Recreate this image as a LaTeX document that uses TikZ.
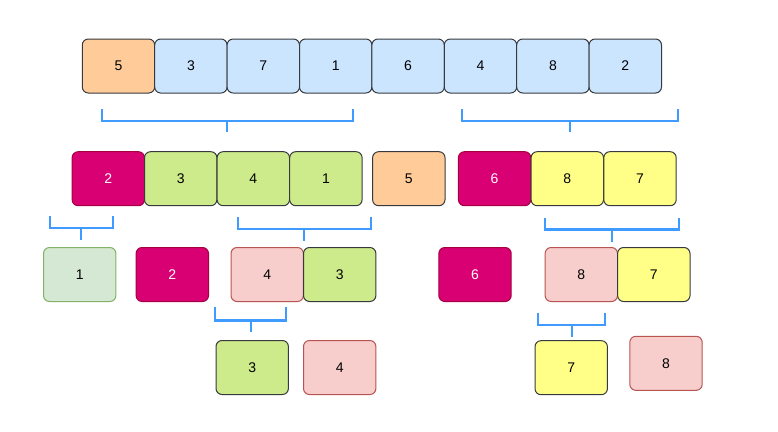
\documentclass[tikz,border=0pt]{standalone}
\usepackage{fontspec}
\setmainfont{Liberation Sans}
\usetikzlibrary{positioning}

\definecolor{orangefill}{HTML}{FFCC99}
\definecolor{bluefill}{HTML}{CCE5FF}
\definecolor{magfill}{HTML}{D80073}
\definecolor{magline}{HTML}{A50040}
\definecolor{greenfill}{HTML}{CDEB8B}
\definecolor{palegreen}{HTML}{D5E8D4}
\definecolor{paleline}{HTML}{82B366}
\definecolor{pinkfill}{HTML}{F8CECC}
\definecolor{pinkline}{HTML}{B85450}
\definecolor{yellowfill}{HTML}{FFFF88}
\definecolor{darkline}{HTML}{36393D}
\definecolor{brackblue}{HTML}{3F9BFF}

\begin{document}
\begin{tikzpicture}[
      x=1pt, y=-1pt,
      box/.style={rectangle, rounded corners=6pt, line width=1pt, draw=darkline,
        minimum width=72.4pt, minimum height=54pt, inner sep=0pt,
        font=\fontsize{14}{16}\selectfont},
      o/.style={box, fill=orangefill},
      b/.style={box, fill=bluefill},
      m/.style={box, fill=magfill, draw=magline, text=white},
      g/.style={box, fill=greenfill},
      lg/.style={box, fill=palegreen, draw=paleline},
      p/.style={box, fill=pinkfill, draw=pinkline},
      yl/.style={box, fill=yellowfill},
      brack/.style={draw=brackblue, line width=2.2pt},
    ]
      \useasboundingbox (0,0) rectangle (778,431);
      % row 1
      \node[o] (a1) at (118.5,66) {5};
      \node[b] (a2) at (190.9,66) {3};
      \node[b] (a3) at (263.3,66) {7};
      \node[b] (a4) at (335.7,66) {1};
      \node[b] (a5) at (408.1,66) {6};
      \node[b] (a6) at (480.5,66) {4};
      \node[b] (a7) at (552.9,66) {8};
      \node[b] (a8) at (625.3,66) {2};
      % row 2
      \node[m] (b1) at (108.3,178.7) {2};
      \node[g] (b2) at (180.7,178.7) {3};
      \node[g] (b3) at (253.3,178.7) {4};
      \node[g] (b4) at (325.9,178.7) {1};
      \node[o] (b5) at (408.8,178.7) {5};
      \node[m] (b6) at (494.6,178.7) {6};
      \node[yl] (b7) at (567.3,178.7) {8};
      \node[yl] (b8) at (640,178.7) {7};
      % row 3
      \node[lg] (c1) at (79.7,274.5) {1};
      \node[m] (c2) at (172.3,274.5) {2};
      \node[p] (c3) at (267.2,274.5) {4};
      \node[g] (c4) at (339.7,274.5) {3};
      \node[m] (c5) at (475,274.5) {6};
      \node[p] (c6) at (581.3,274.5) {8};
      \node[yl] (c7) at (653.8,274.5) {7};
      % row 4
      \node[g] (d1) at (252.2,367.5) {3};
      \node[p] (d2) at (339.7,367.5) {4};
      \node[yl] (d3) at (571.2,367.7) {7};
      \node[p] (d4) at (666,363.3) {8};
      % brackets
      \draw[brack] (101.7,109) -- (101.7,121) -- (353,121) -- (353,109);
      \draw[brack] (227.3,121) -- (227.3,132);
      \draw[brack] (462,109) -- (462,121) -- (678,121) -- (678,109);
      \draw[brack] (570,121) -- (570,132);
      \draw[brack] (50,216) -- (50,228) -- (113.3,228) -- (113.3,216);
      \draw[brack] (81,228) -- (81,239.5);
      \draw[brack] (237.7,217) -- (237.7,229) -- (370.7,229) -- (370.7,217);
      \draw[brack] (304,229) -- (304,241);
      \draw[brack] (545,217.7) -- (545,229.5) -- (678.7,229.5) -- (678.7,217.7);
      \draw[brack] (612,229.5) -- (612,242);
      \draw[brack] (215,307.3) -- (215,320.5) -- (286.3,320.5) -- (286.3,307.3);
      \draw[brack] (250.7,320.5) -- (250.7,332.3);
      \draw[brack] (537.7,312.7) -- (537.7,325) -- (605,325) -- (605,312.7);
      \draw[brack] (571.7,325) -- (571.7,337.3);
    \end{tikzpicture}
\end{document}
